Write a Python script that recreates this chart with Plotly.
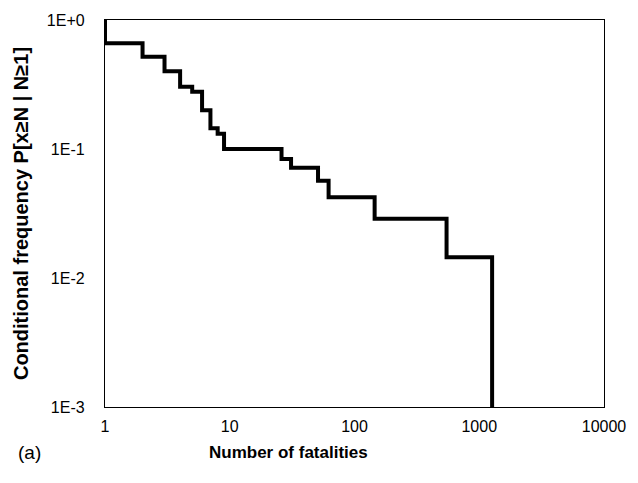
import plotly.graph_objects as go

# Step curve: conditional exceedance frequency vs number of fatalities
fatalities = [1, 1, 2, 3, 4, 5, 6, 7, 8, 9, 26, 31, 51, 62, 145, 547, 1268]
frequency = [1.0, 0.66, 0.52, 0.40, 0.304, 0.278, 0.20, 0.145, 0.131, 0.10,
             0.0836, 0.0716, 0.0568, 0.0422, 0.0288, 0.0145, 0.001]

x_ticks = [1, 10, 100, 1000, 10000]
x_tick_labels = ["1", "10", "100", "1000", "10000"]
y_ticks = [1e-3, 1e-2, 1e-1, 1]
y_tick_labels = ["1E-3", "1E-2", "1E-1", "1E+0"]

fig = go.Figure()
fig.add_trace(go.Scatter(
    x=fatalities, y=frequency, mode="lines",
    line=dict(color="black", width=4, shape="hv"),
    showlegend=False, cliponaxis=True,
))

font = "Liberation Sans, Arial, sans-serif"
fig.update_layout(
    width=638, height=483,
    margin=dict(l=105, r=29, t=20, b=76),
    paper_bgcolor="white", plot_bgcolor="white",
    font=dict(family=font, color="black", size=16),
    xaxis=dict(
        type="log", range=[0, 4],
        tickvals=x_ticks, ticktext=x_tick_labels,
        showgrid=False, zeroline=False,
        showline=True, linecolor="black", linewidth=1.3, mirror=True,
        ticks="", ticklabelstandoff=5,
        tickfont=dict(size=16),
    ),
    yaxis=dict(
        type="log", range=[-3, 0],
        tickvals=y_ticks, ticktext=y_tick_labels,
        showgrid=False, zeroline=False,
        showline=True, linecolor="black", linewidth=1.3, mirror=True,
        ticks="", ticklabelstandoff=16,
        tickfont=dict(size=16),
        title=dict(text="<b>Conditional frequency P[x≥N | N≥1]</b>",
                   font=dict(size=20), standoff=12),
    ),
    annotations=[
        dict(text="<b>Number of fatalities</b>", x=290, y=483 - 464,
             xref="paper", yref="paper", showarrow=False,
             font=dict(size=17)),
        dict(text="(a)", x=15, y=483 - 465, showarrow=False,
             xref="paper", yref="paper", font=dict(size=19)),
    ],
)

# convert pixel positions of annotations to paper coordinates
pw = 638 - 105 - 29
ph = 483 - 20 - 76
for a in fig.layout.annotations:
    a.x = (a.x - 105) / pw
    a.y = (a.y - 76) / ph

fig.write_html("out.html")
